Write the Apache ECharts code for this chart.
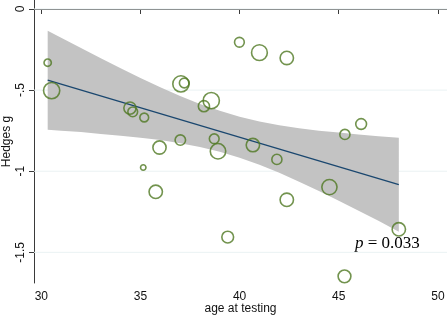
<!DOCTYPE html>
<html><head><meta charset="utf-8">
<script src="https://cdn.jsdelivr.net/npm/echarts@6/dist/echarts.min.js"></script>
<style>html,body{margin:0;padding:0;background:#fff}#c{width:447px;height:317px}</style>
</head><body><div id="c"></div>
<script>
// Study-level data: age at testing vs Hedges g, bubble = study weight
const ageAtTesting = [30.32, 30.52, 34.47, 34.61, 35.19, 37.04, 37.21, 38.57, 38.20, 35.96, 37.01, 38.72, 38.91, 40.67, 41.88, 39.99, 41.00, 42.38, 46.13, 45.31, 35.14, 35.77, 42.38, 39.40, 44.53, 48.03, 45.29];
const hedgesG     = [-0.331, -0.503, -0.611, -0.634, -0.669, -0.462, -0.456, -0.565, -0.599, -0.854, -0.808, -0.800, -0.877, -0.839, -0.927, -0.205, -0.269, -0.302, -0.709, -0.773, -0.977, -1.127, -1.176, -1.406, -1.098, -1.358, -1.648];
const weights     = [18, 76, 45, 30, 25, 76, 30, 76, 38, 52, 34, 30, 69, 53, 32, 30, 72, 53, 36, 32, 11, 53, 53, 42, 67, 53, 49];

// Fitted regression line and 95% CI band
const fitX = [30.32, 48.03];
const fitY = [-0.4392, -1.0821];
const bandX     = [30.32, 31, 32, 33, 34, 35, 36, 37, 38, 39, 40, 41, 42, 43, 44, 45, 46, 47, 48.03];
const bandUpper = [-0.134, -0.178, -0.241, -0.304, -0.365, -0.425, -0.482, -0.537, -0.586, -0.628, -0.665, -0.694, -0.716, -0.735, -0.750, -0.762, -0.773, -0.784, -0.793];
const bandLower = [-0.744, -0.750, -0.759, -0.770, -0.781, -0.793, -0.808, -0.827, -0.850, -0.880, -0.917, -0.960, -1.010, -1.065, -1.122, -1.182, -1.243, -1.306, -1.373];

// Axis ticks
const xTicks = [30, 35, 40, 45, 50];
const xTickLabels = ['30', '35', '40', '45', '50'];
const yTicks = [0, -0.5, -1, -1.5];
const yTickLabels = ['0', '-.5', '-1', '-1.5'];
const xTitle = 'age at testing';
const yTitle = 'Hedges g';
const pValueText = '0.033';

const chart = echarts.init(document.getElementById('c'), null, {renderer: 'canvas'});
const axisColor = '#3a3a3a';
const sans = 'Liberation Sans';

function lookup(vals, labels, v) {
  for (let i = 0; i < vals.length; i++) if (Math.abs(vals[i] - v) < 1e-6) return labels[i];
  return '';
}

const option = {
  animation: false,
  backgroundColor: '#fff',
  grid: {left: 34, right: 0, top: 0, bottom: 34, containLabel: false, outerBoundsMode: 'none'},
  xAxis: {
    type: 'value', min: 29.63, max: 50.46,
    axisLine: {show: true, lineStyle: {color: axisColor, width: 1}},
    axisTick: {show: true, customValues: xTicks, length: 5, lineStyle: {color: axisColor}},
    axisLabel: {customValues: xTicks, formatter: v => lookup(xTicks, xTickLabels, v), color: '#111', fontFamily: sans, fontSize: 12, margin: 8},
    splitLine: {show: false},
    name: xTitle, nameLocation: 'middle', nameGap: 26, nameMoveOverlap: false,
    nameTextStyle: {color: '#111', fontFamily: sans, fontSize: 12, verticalAlign: 'middle', lineHeight: 12}
  },
  yAxis: {
    type: 'value', min: -1.689, max: 0.0554,
    axisLine: {show: true, onZero: false, lineStyle: {color: axisColor, width: 1}},
    axisTick: {show: true, customValues: yTicks, length: 5, lineStyle: {color: axisColor}},
    axisLabel: {customValues: yTicks, formatter: v => lookup(yTicks, yTickLabels, v), rotate: 90, color: '#111', fontFamily: sans, fontSize: 12, margin: 7},
    splitLine: {show: false},
    name: yTitle, nameLocation: 'middle', nameGap: 27, nameRotate: 90, nameMoveOverlap: false,
    nameTextStyle: {color: '#111', fontFamily: sans, fontSize: 12, verticalAlign: 'middle', align: 'center', lineHeight: 12, padding: [0, 0, 0, 0]}
  },
  series: [
    {
      type: 'custom',
      silent: true,
      z: 1,
      clip: true,
      data: bandX.map((x, i) => [x, bandUpper[i], bandLower[i]]),
      encode: {x: 0, y: [1, 2]},
      renderItem: function (params, api) {
        if (params.dataIndex !== 0) return null;
        const cs = params.coordSys;
        const children = [];
        yTicks.forEach(function (v) {
          const p = api.coord([bandX[0], v]);
          children.push({type: 'line', shape: {x1: cs.x, y1: p[1], x2: cs.x + cs.width, y2: p[1]},
            style: {stroke: '#eaf2f3', lineWidth: 1}});
        });
        const pts = [];
        for (let i = 0; i < bandX.length; i++) pts.push(api.coord([bandX[i], bandUpper[i]]));
        for (let i = bandX.length - 1; i >= 0; i--) pts.push(api.coord([bandX[i], bandLower[i]]));
        children.push({type: 'polygon', shape: {points: pts}, style: {fill: '#c3c3c3'}});
        return {type: 'group', children: children};
      }
    },
    {
      type: 'line',
      silent: true,
      z: 2,
      symbol: 'none',
      data: fitX.map((x, i) => [x, fitY[i]]),
      lineStyle: {color: '#1a476f', width: 1.3}
    },
    {
      type: 'scatter',
      silent: true,
      z: 3,
      data: ageAtTesting.map((x, i) => [x, hedgesG[i], weights[i]]),
      symbol: 'circle',
      symbolSize: v => 2 * Math.sqrt(v[2]) - 1.2,
      itemStyle: {color: 'rgba(0,0,0,0)', borderColor: '#4f7822', borderWidth: 1.6}
    }
  ],
  graphic: [{
    type: 'text', left: 355, top: 235, silent: true,
    style: {
      text: '{i|p} = ' + pValueText,
      fill: '#000',
      font: '17px "Liberation Serif"',
      rich: {i: {fontStyle: 'italic', fontFamily: 'Liberation Serif', fontSize: 17, fill: '#000'}}
    }
  }]
};
chart.setOption(option);
</script>
</body></html>
